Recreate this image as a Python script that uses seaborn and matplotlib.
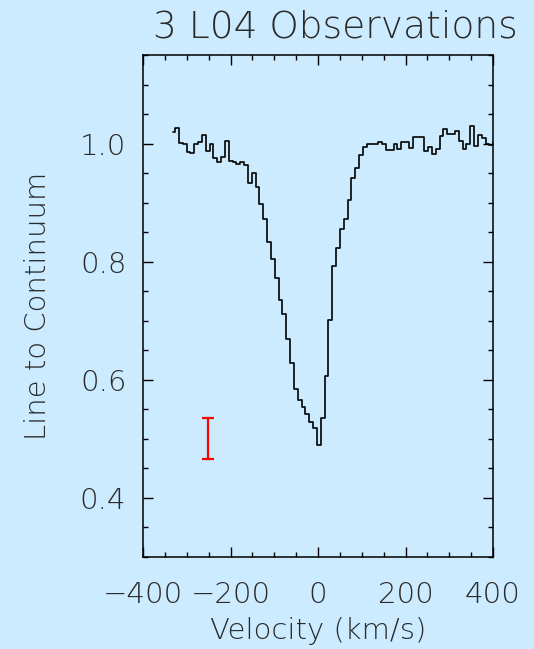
import matplotlib
matplotlib.use("Agg")
import matplotlib.pyplot as plt
import seaborn as sns
from matplotlib.ticker import MultipleLocator

# Spectrum channels: velocity (km/s) and line-to-continuum ratio
velocity = [
    -331.2, -322.4, -313.7, -304.9, -296.1, -287.4, -278.6, -269.8, -261.1, -252.3,
    -243.6, -234.8, -226.0, -217.3, -208.5, -199.8, -191.0, -182.2, -173.5, -164.7,
    -155.9, -147.2, -138.4, -129.7, -120.9, -112.1, -103.4, -94.6, -85.8, -77.1,
    -68.3, -59.6, -50.8, -42.0, -33.3, -24.5, -15.7, -7.0, 1.8, 10.6,
    19.3, 28.1, 36.8, 45.6, 54.4, 63.1, 71.9, 80.7, 89.4, 98.2,
    106.9, 115.7, 124.5, 133.2, 142.0, 150.8, 159.5, 168.3, 177.0, 185.8,
    194.6, 203.3, 212.1, 220.9, 229.6, 238.4, 247.1, 255.9, 264.7, 273.4,
    282.2, 291.0, 299.7, 308.5, 317.2, 326.0, 334.8, 343.5, 352.3, 361.1,
    369.8, 378.6, 387.3, 396.1, 404.9,
]
ratio = [
    1.019, 1.026, 1.001, 1.000, 0.986, 0.984, 1.000, 1.003, 1.015, 0.988,
    1.000, 0.976, 0.968, 0.978, 1.005, 0.971, 0.969, 0.966, 0.968, 0.963,
    0.934, 0.950, 0.927, 0.897, 0.872, 0.833, 0.805, 0.772, 0.736, 0.712,
    0.669, 0.628, 0.584, 0.566, 0.554, 0.542, 0.528, 0.518, 0.489, 0.535,
    0.607, 0.702, 0.792, 0.823, 0.856, 0.872, 0.905, 0.942, 0.959, 0.981,
    0.994, 1.000, 1.000, 1.000, 1.003, 1.000, 0.989, 0.989, 1.000, 0.990,
    1.003, 1.003, 0.992, 1.012, 1.012, 1.012, 0.988, 0.995, 0.983, 0.991,
    1.013, 1.024, 1.017, 1.017, 1.022, 1.004, 0.990, 0.999, 1.029, 0.996,
    1.015, 1.010, 1.000, 0.997, 1.002,
]

# Typical per-channel uncertainty, shown as a single error bar
err_x = [-252.0]
err_y = [0.501]
err_half = [0.035]

title = "3 L04 Observations"
xlabel = "Velocity (km/s)"
ylabel = "Line to Continuum"

bg = "#ccebff"
ink = "#2a2a2a"

sns.set_style("ticks")
plt.rcParams["font.family"] = ["DejaVu Sans"]
plt.rcParams["font.weight"] = 200
plt.rcParams["axes.unicode_minus"] = True

fig = plt.figure(figsize=(5.34, 6.49), dpi=100, facecolor=bg)
ax = fig.add_axes([143 / 534, 92 / 649, 350 / 534, 502 / 649])
ax.set_facecolor(bg)

sns.lineplot(x=velocity, y=ratio, ax=ax, drawstyle="steps-mid",
             estimator=None, color="black", linewidth=1.2, sort=False)

ax.errorbar(err_x, err_y, yerr=err_half, fmt="none", ecolor="#ff0000",
            elinewidth=1.6, capsize=4.5, capthick=1.6)

ax.set_xlim(-400, 400)
ax.set_ylim(0.3, 1.15)
ax.xaxis.set_major_locator(MultipleLocator(200))
ax.xaxis.set_minor_locator(MultipleLocator(50))
ax.yaxis.set_major_locator(MultipleLocator(0.2))
ax.yaxis.set_minor_locator(MultipleLocator(0.05))
ax.set_yticks([0.4, 0.6, 0.8, 1.0])
ax.set_yticklabels(["0.4", "0.6", "0.8", "1.0"])

ax.tick_params(which="both", direction="in", top=True, right=True,
               color="black", width=1.0, labelcolor=ink, labelsize=21)
ax.tick_params(which="major", length=7)
ax.tick_params(which="minor", length=3.5)
ax.tick_params(axis="x", which="major", pad=17)
ax.tick_params(axis="y", which="major", pad=12)
for s in ax.spines.values():
    s.set_color("black")
    s.set_linewidth(1.1)

ax.set_xlabel(xlabel, fontsize=21, color=ink, fontweight=200)
ax.set_ylabel(ylabel, fontsize=21, color=ink, fontweight=200)
ax.xaxis.label.set_va("center")
ax.yaxis.label.set_va("center")
ax.xaxis.set_label_coords(0.5, (557 - 631) / 502)
ax.yaxis.set_label_coords((38 - 143) / 350, 0.5)

fig.text(518 / 534, 1 - 38 / 649, title, ha="right", va="baseline",
         fontsize=27, color=ink, fontweight=200)

fig.savefig("out.png", dpi=100, facecolor=bg)
